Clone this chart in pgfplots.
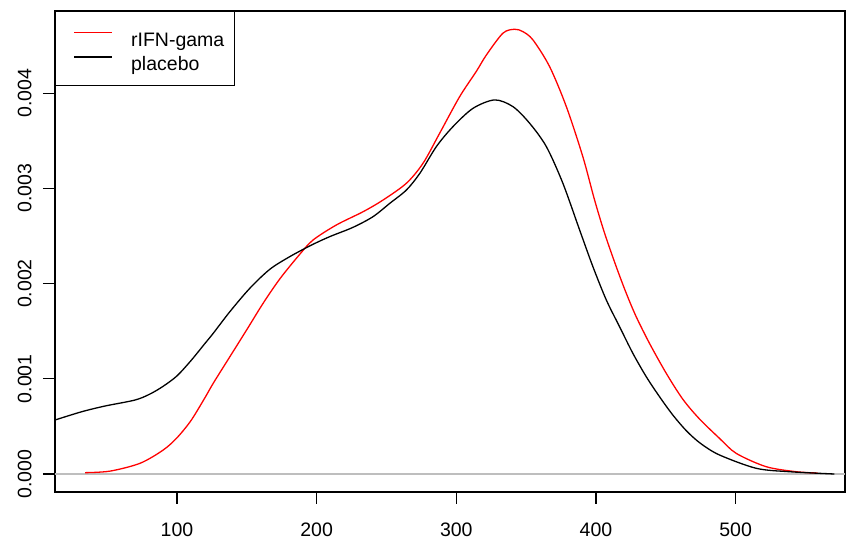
\documentclass[border=0pt]{standalone}
\usepackage{fontspec}
\setmainfont{Liberation Sans}
\usepackage{pgfplots}
\pgfplotsset{compat=1.18}
\usetikzlibrary{calc}

\definecolor{rgray}{RGB}{190,190,190}

\begin{document}
\begin{tikzpicture}
\begin{axis}[
    scale only axis,
    width=790pt, height=481pt,
    xmin=12.7, xmax=578.3,
    ymin=-0.000189, ymax=0.004863,
    axis line style={line width=1.2pt},
    tick align=outside,
    major tick length=12pt,
    tick style={line width=1.2pt, black},
    xtick pos=lower, ytick pos=left,
    xtick={100,200,300,400,500},
    xticklabels={100,200,300,400,500},
    ytick={0,0.001,0.002,0.003,0.004},
    yticklabels={0.000,0.001,0.002,0.003,0.004},
    scaled y ticks=false,
    /pgf/number format/assume math mode=true,
    ticklabel style={font=\fontsize{19.5}{20}\selectfont},
    xticklabel style={yshift=-15pt},
    yticklabel style={xshift=-8pt, rotate=90, anchor=south},
    legend style={at={(axis description cs:0,1)}, anchor=north west,
        draw=black, line width=1pt, fill=white,
        font=\fontsize{19.5}{20}\selectfont,
        inner xsep=10pt, inner ysep=12.7pt, row sep=0pt,
        nodes={inner sep=0pt, text height=22pt, text depth=2.3pt},
        /tikz/every odd column/.append style={column sep=19pt}},
    legend cell align=left,
    legend image code/.code={\path[draw=none] (-9pt,0pt) -- (0pt,0pt);
        \draw[#1] (0pt,3.5pt) -- (37pt,3.5pt);},
]
\addplot[rgray, line width=1.2pt, forget plot] coordinates {(12.7,0) (578.3,0)};

\addplot[red, line width=1.3pt, smooth] coordinates {
(34.2,0.000014) (52,0.00003) (73.5,0.000112) (90,0.00025) (100,0.00038)
(110,0.00056) (120,0.0008) (126,0.000953) (137.9,0.001232) (149.9,0.001513)
(161.7,0.001793) (173.7,0.00205) (187.5,0.0023) (197.5,0.002458) (214.2,0.002616)
(233.3,0.002755) (247.6,0.002878) (264.3,0.003054) (276.2,0.003264) (288.1,0.003579)
(302.4,0.003963) (314.4,0.00423) (321.5,0.0044) (333.4,0.00463) (341.8,0.004671)
(347.7,0.004646) (354.9,0.004559) (366.8,0.004279) (378.8,0.003858) (390.6,0.003333)
(399,0.002878) (406.2,0.002528) (414.5,0.002178) (421.7,0.001898) (428.8,0.001652)
(438.3,0.001373) (450.3,0.001058) (462.2,0.000785) (474,0.00058) (488.4,0.000375)
(500.4,0.000217) (521.8,0.000077) (543.3,0.000024) (558.7,0.00001)
};
\addlegendentry{rIFN-gama}

\addplot[black, line width=1.3pt, smooth] coordinates {
(12.7,0.000567) (31.8,0.000654) (48.5,0.000714) (70,0.000777) (80.7,0.00084)
(90,0.00092) (100,0.00103) (110,0.00119) (120,0.00137) (126,0.001478)
(137.9,0.001705) (152.2,0.001951) (166.5,0.00215) (180.8,0.002283) (196.4,0.002405)
(209.4,0.002493) (226.1,0.002591) (240.4,0.002703) (252.4,0.002843) (264.3,0.002983)
(274,0.00316) (285.8,0.00344) (297.6,0.003648) (312,0.003841) (327.5,0.003929)
(340.6,0.003858) (352.5,0.003684) (364.5,0.003438) (376.3,0.003054) (388.3,0.002563)
(397.8,0.002178) (407.4,0.001828) (416.9,0.001547) (426.4,0.001268) (436,0.001022)
(445.5,0.000812) (455,0.00062) (465,0.00045) (475,0.00032) (488.4,0.0002)
(514.7,0.00006) (538.5,0.000024) (570.7,0.0)
};
\addlegendentry{placebo}
\end{axis}
\pgfresetboundingbox
\path ($(current axis.south west)+(-55pt,-48pt)$) rectangle ($(current axis.north east)+(3pt,11pt)$);
\end{tikzpicture}
\end{document}
